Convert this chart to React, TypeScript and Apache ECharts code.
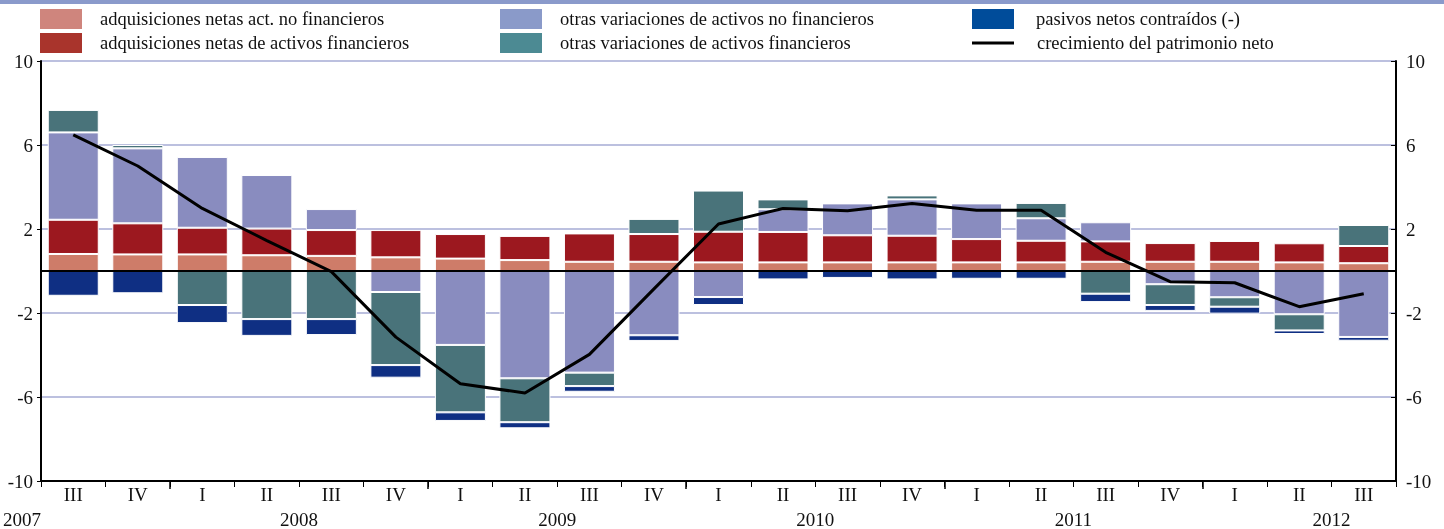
import React, { useEffect, useRef } from "react";
import * as echarts from "echarts";

const quarters = ["III", "IV", "I", "II", "III", "IV", "I", "II", "III", "IV", "I", "II", "III", "IV", "I", "II", "III", "IV", "I", "II", "III"];
const yearLabels = ["2007", "", "", "", "2008", "", "", "", "2009", "", "", "", "2010", "", "", "", "2011", "", "", "", "2012", ""];

const adqNoFin = [0.81, 0.79, 0.79, 0.75, 0.72, 0.65, 0.59, 0.52, 0.44, 0.44, 0.41, 0.41, 0.41, 0.41, 0.41, 0.41, 0.44, 0.44, 0.44, 0.41, 0.37];
const adqFin = [1.63, 1.48, 1.27, 1.27, 1.23, 1.30, 1.17, 1.15, 1.35, 1.32, 1.46, 1.45, 1.29, 1.27, 1.11, 1.03, 0.97, 0.89, 0.99, 0.91, 0.82];
const otrasNoFin = [4.16, 3.57, 3.37, 2.55, 1.0, -1.0, -3.52, -5.11, -4.84, -3.06, -1.24, 1.08, 1.52, 1.73, 1.70, 1.07, 0.91, -0.63, -1.25, -2.06, -3.14];
const otrasFin = [1.07, 0.16, -1.62, -2.29, -2.29, -3.48, -3.21, -2.09, -0.64, 0.72, 1.96, 0.47, 0, 0.19, 0, 0.73, -1.08, -0.99, -0.45, -0.77, 1.0];
const pasivos = [-1.18, -1.06, -0.86, -0.8, -0.76, -0.6, -0.41, -0.29, -0.27, -0.27, -0.38, -0.4, -0.33, -0.4, -0.37, -0.37, -0.4, -0.28, -0.33, -0.17, -0.18];
const patrimonio = [6.48, 5.0, 2.98, 1.45, -0.03, -3.15, -5.37, -5.81, -3.97, -0.85, 2.24, 2.98, 2.87, 3.21, 2.89, 2.89, 0.89, -0.51, -0.56, -1.7, -1.08];

const yTicksMin = -10;
const yTicksMax = 10;
const yTickStep = 4;

const names = {
  a: "adquisiciones netas act. no financieros",
  b: "adquisiciones netas de activos financieros",
  c: "otras variaciones de activos no financieros",
  d: "otras variaciones de activos financieros",
  e: "pasivos netos contraídos (-)",
  f: "crecimiento del patrimonio neto",
};

const FONT = "'Liberation Serif', 'Times New Roman', serif";
const AXIS_FS = 19;

export default function App() {
  const ref = useRef<HTMLDivElement>(null);
  useEffect(() => {
    if (!ref.current) return;
    const chart = echarts.init(ref.current, undefined, { renderer: "svg" });
    const barBase = {
      type: "bar",
      stack: "total",
      barWidth: 51,
      xAxisIndex: 0,
      yAxisIndex: 0,
    };
    const legendText = { fontFamily: FONT, fontSize: 18.5, lineHeight: 20, color: "#111", padding: [0, 0, 0, 13] };
    const legendBase = {
      orient: "vertical", padding: 0, itemWidth: 42, itemHeight: 20, itemGap: 4, icon: "rect", selectedMode: false,
      itemStyle: { borderWidth: 0 },
    };
    const sw = (color: string) => ({ color, borderWidth: 0 });
    chart.setOption({
      animation: false,
      textStyle: { fontFamily: FONT },
      graphic: [
        { type: "rect", left: 0, top: 0, shape: { x: 0, y: 0, width: 1444, height: 4 }, style: { fill: "#8A9ACB" } },
      ],
      legend: [
        {
          ...legendBase, left: 40, top: 9,
          textStyle: legendText,
          data: [
            { name: names.a, itemStyle: sw("#CF857D") },
            { name: names.b, itemStyle: sw("#A9342C") },
          ],
        },
        {
          ...legendBase, left: 500, top: 9,
          textStyle: legendText,
          data: [
            { name: names.c, itemStyle: sw("#8A9AC9") },
            { name: names.d, itemStyle: sw("#4C8A93") },
          ],
        },
        {
          ...legendBase, left: 972, top: 9,
          textStyle: { ...legendText, padding: [0, 0, 0, 17] },
          data: [{ name: names.e, itemStyle: sw("#004C9A") }],
        },
        {
          ...legendBase, left: 972, top: 33, itemHeight: 3,
          textStyle: { ...legendText, padding: [0, 0, 0, 18] },
          data: [{ name: names.f, icon: "rect", itemStyle: sw("#000") }],
        },
      ],
      grid: { left: 41, right: 48, top: 61, bottom: 48, containLabel: false },
      xAxis: [
        {
          type: "category",
          data: quarters,
          position: "bottom",
          axisLine: { onZero: false, lineStyle: { color: "#000", width: 2 } },
          axisTick: { show: true, length: 6, lineStyle: { color: "#000", width: 1 } },
          axisLabel: { color: "#111", fontFamily: FONT, fontSize: AXIS_FS, margin: 4, interval: 0 },
          splitLine: { show: false },
        },
        {
          type: "category",
          data: yearLabels,
          boundaryGap: false,
          position: "bottom",
          axisLine: { show: false, onZero: false },
          axisTick: { show: true, length: 8, interval: (i: number) => i % 4 === 2, lineStyle: { color: "#000", width: 1.5 } },
          axisLabel: {
            color: "#111", fontFamily: FONT, fontSize: AXIS_FS, margin: 29,
            interval: (i: number, v: string) => v !== "",
            formatter: (v: string, i: number) => (i === 0 ? `{first|${v}}` : v),
            rich: { first: { fontFamily: FONT, fontSize: AXIS_FS, color: "#111", padding: [0, 38, 0, 0] } },
          },
          splitLine: { show: false },
        },
      ],
      yAxis: [
        {
          type: "value",
          min: yTicksMin, max: yTicksMax, interval: yTickStep,
          position: "left",
          axisLine: { show: true, lineStyle: { color: "#000", width: 2 } },
          axisTick: { show: true, length: 4, lineStyle: { color: "#000" } },
          axisLabel: { color: "#111", fontFamily: FONT, fontSize: AXIS_FS, margin: 8 },
          splitLine: { show: true, lineStyle: { color: "#BCC0DF", width: 2 } },
        },
        {
          type: "value",
          min: yTicksMin, max: yTicksMax, interval: yTickStep,
          position: "right",
          axisLine: { show: true, lineStyle: { color: "#000", width: 2 } },
          axisTick: { show: true, inside: true, length: 5, lineStyle: { color: "#000" } },
          axisLabel: { color: "#111", fontFamily: FONT, fontSize: AXIS_FS, margin: 10 },
          splitLine: { show: false },
        },
      ],
      series: [
        { ...barBase, name: names.a, data: adqNoFin, itemStyle: { color: "#CE7C69", borderColor: "#fff", borderWidth: 1 } },
        { ...barBase, name: names.b, data: adqFin, itemStyle: { color: "#9C181F", borderColor: "#fff", borderWidth: 1 } },
        { ...barBase, name: names.c, data: otrasNoFin, itemStyle: { color: "#898CBF", borderColor: "#fff", borderWidth: 1 } },
        { ...barBase, name: names.d, data: otrasFin, itemStyle: { color: "#49737A", borderColor: "#fff", borderWidth: 1 } },
        { ...barBase, name: names.e, data: pasivos, itemStyle: { color: "#0F2F83", borderColor: "#fff", borderWidth: 1 } },
        {
          type: "line",
          name: names.f,
          data: patrimonio,
          xAxisIndex: 0,
          yAxisIndex: 0,
          symbol: "none",
          z: 5,
          lineStyle: { color: "#000", width: 3 },
          itemStyle: { color: "#000" },
          markLine: {
            silent: true,
            symbol: "none",
            label: { show: false },
            lineStyle: { color: "#000", width: 2, type: "solid" },
            data: [{ yAxis: 0 }],
          },
        },
      ],
    });
    return () => chart.dispose();
  }, []);
  return <div ref={ref} style={{ position: "fixed", left: 0, top: 0, width: 1444, height: 529 }} />;
}
